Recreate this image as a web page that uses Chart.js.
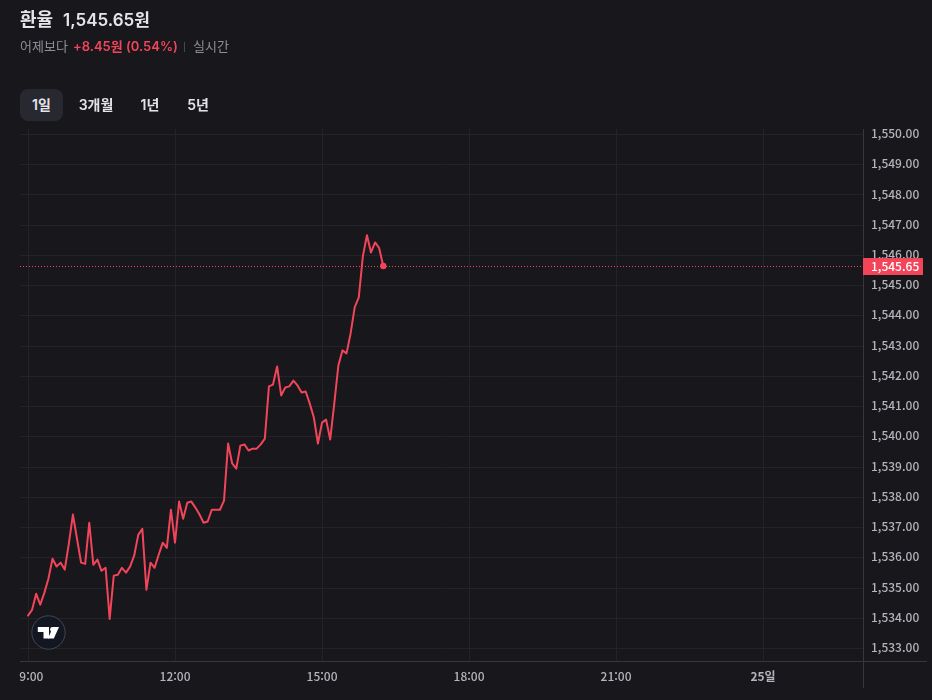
<!DOCTYPE html>
<html lang="ko">
<head>
<meta charset="utf-8">
<script src="https://cdn.jsdelivr.net/npm/chart.js@4"></script>
<style>
html,body{margin:0;padding:0;background:#17171c;width:932px;height:700px;overflow:hidden}
body{position:relative;font-family:Inter,"Noto Sans CJK KR","Noto Sans",sans-serif}
#c{position:absolute;left:0;top:0;width:932px;height:700px}
.t{position:absolute;white-space:nowrap;line-height:1}
.btn{position:absolute;top:89px;height:32px;line-height:31px;font-size:14px;font-weight:600;color:#e4e4e8;text-align:center;white-space:nowrap}
.on{background:#282830;border-radius:8px}
#logo{position:absolute;left:31px;top:615px;width:35px;height:35px}
</style>
</head>
<body>
<canvas id="c" width="932" height="700"></canvas>
<div class="t" style="left:20px;top:11px;font-size:18px;font-weight:600;color:#e6e6ea">환율</div>
<div class="t" style="left:63px;top:12px;font-size:17px;font-weight:600;color:#e6e6ea">1,545.65원</div>
<div class="t" style="left:20px;top:40px;font-size:13px;color:#8e8e94">어제보다</div>
<div class="t" style="left:73px;top:40px;font-size:13px;font-weight:600;color:#f2455a">+8.45원 (0.54%)</div>
<div style="position:absolute;left:184px;top:42px;width:1px;height:10px;background:#46464d"></div>
<div class="t" style="left:193px;top:40px;font-size:13px;color:#8e8e94">실시간</div>
<div class="btn on" style="left:20px;width:43px">1일</div>
<div class="btn" style="left:70px;width:52px">3개월</div>
<div class="btn" style="left:130px;width:40px">1년</div>
<div class="btn" style="left:178px;width:40px">5년</div>
<svg id="logo" viewBox="0 0 35 35">
<circle cx="17.5" cy="17.5" r="16.7" fill="#131722" stroke="#444852" stroke-width="1"/>
<path fill="#fff" d="M6.8 12H18V23.5H12.5V17H6.8Z"/>
<circle cx="21.5" cy="14.4" r="2.4" fill="#fff"/>
<path fill="#fff" d="M22.8 23.5H17L22 12H28Z"/>
</svg>
<script>
const startMinutes = 540;
const stepMinutes = 5;
const rates = [
1534.09,1534.28,1534.81,1534.45,1534.84,1535.31,1535.97,1535.71,1535.84,1535.61,
1536.47,1537.43,1536.63,1535.84,1535.80,1537.16,1535.77,1535.94,1535.57,1535.67,
1533.98,1535.41,1535.44,1535.67,1535.51,1535.71,1536.07,1536.76,1536.96,1534.94,
1535.84,1535.67,1536.10,1536.50,1536.33,1537.59,1536.50,1537.86,1537.29,1537.82,
1537.86,1537.66,1537.43,1537.16,1537.20,1537.59,1537.59,1537.59,1537.89,1539.78,
1539.12,1538.95,1539.71,1539.75,1539.55,1539.61,1539.61,1539.75,1539.94,1541.67,
1541.73,1542.33,1541.37,1541.63,1541.67,1541.86,1541.70,1541.47,1541.50,1541.10,
1540.64,1539.78,1540.47,1540.57,1539.91,1541.10,1542.36,1542.86,1542.76,1543.42,
1544.28,1544.61,1545.97,1546.67,1546.10,1546.43,1546.24,1545.65
];
const currentRate = 1545.65;
const xTickValues = [540,720,900,1080,1260,1440];
const xTickLabels = ["9:00","12:00","15:00","18:00","21:00","25일"];
const yTickValues = [1533,1534,1535,1536,1537,1538,1539,1540,1541,1542,1543,1544,1545,1546,1547,1548,1549,1550];

const RED = "#f2455a", GRID = "#232329", AXIS = "#37373e", LABEL = "#b4b4ba";
const FONT = '"Noto Sans CJK KR","Noto Sans",sans-serif';
const xMin = 530.2, xMax = 1562.4, yMin = 1532.587, yMax = 1550.182;

const frame = {
  id: "frame",
  afterDraw(chart) {
    const c = chart.ctx, a = chart.chartArea, y = chart.scales.y.getPixelForValue(currentRate);
    const row = Math.round(y);
    c.save();
    c.strokeStyle = AXIS; c.lineWidth = 1;
    c.beginPath();
    c.moveTo(Math.round(a.left), Math.round(a.bottom) + .5); c.lineTo(927, Math.round(a.bottom) + .5);
    c.moveTo(Math.round(a.right) + .5, a.top); c.lineTo(Math.round(a.right) + .5, 688);
    c.stroke();
    c.strokeStyle = RED; c.setLineDash([1, 2]);
    c.beginPath();
    c.moveTo(a.left, row + .5); c.lineTo(a.right, row + .5);
    c.stroke();
    c.setLineDash([]);
    c.fillStyle = RED;
    c.fillRect(a.right, row - 8, 60, 17);
    c.fillStyle = "#ffffff";
    c.font = "500 12px " + FONT;
    c.textAlign = "left"; c.textBaseline = "middle";
    c.fillText(currentRate.toLocaleString("en-US", {minimumFractionDigits: 2}), a.right + 8, row);
    c.restore();
  }
};

new Chart(document.getElementById("c"), {
  type: "line",
  plugins: [frame],
  data: {
    datasets: [
      {
        data: rates.map((v, i) => ({x: startMinutes + i * stepMinutes, y: v})),
        borderColor: RED, backgroundColor: RED, borderWidth: 2, tension: 0,
        borderJoinStyle: "round", borderCapStyle: "round",
        pointRadius: rates.map((v, i) => i === rates.length - 1 ? 3.2 : 0),
        pointHoverRadius: 0, pointBorderWidth: 0
      }
    ]
  },
  options: {
    responsive: false, animation: false, devicePixelRatio: 1,
    layout: {padding: {left: 20, top: 129, right: 0, bottom: 0}},
    plugins: {legend: {display: false}, tooltip: {enabled: false}},
    scales: {
      x: {
        type: "linear", min: xMin, max: xMax, position: "bottom",
        afterBuildTicks(s) { s.ticks = xTickValues.map(v => ({value: v})); },
        afterFit(s) { s.height = 39; },
        grid: {color: GRID, drawTicks: false, lineWidth: 1},
        border: {display: false},
        ticks: {
          autoSkip: false, maxRotation: 0, padding: 8, color: LABEL,
          font: ctx => ({family: FONT, size: 12, weight: ctx.index === 5 ? "700" : "500"}),
          callback: (v, i) => (i === 0 ? "  " : "") + xTickLabels[i]
        }
      },
      y: {
        type: "linear", min: yMin, max: yMax, position: "right",
        afterBuildTicks(s) { s.ticks = yTickValues.map(v => ({value: v})); },
        afterFit(s) { s.width = 69; },
        grid: {color: GRID, drawTicks: false, lineWidth: 1},
        border: {display: false},
        ticks: {
          padding: 8, color: LABEL, autoSkip: false, labelOffset: -1,
          font: {family: FONT, size: 12, weight: "500"},
          callback: v => v.toLocaleString("en-US", {minimumFractionDigits: 2, maximumFractionDigits: 2})
        }
      }
    }
  }
});
</script>
</body>
</html>
